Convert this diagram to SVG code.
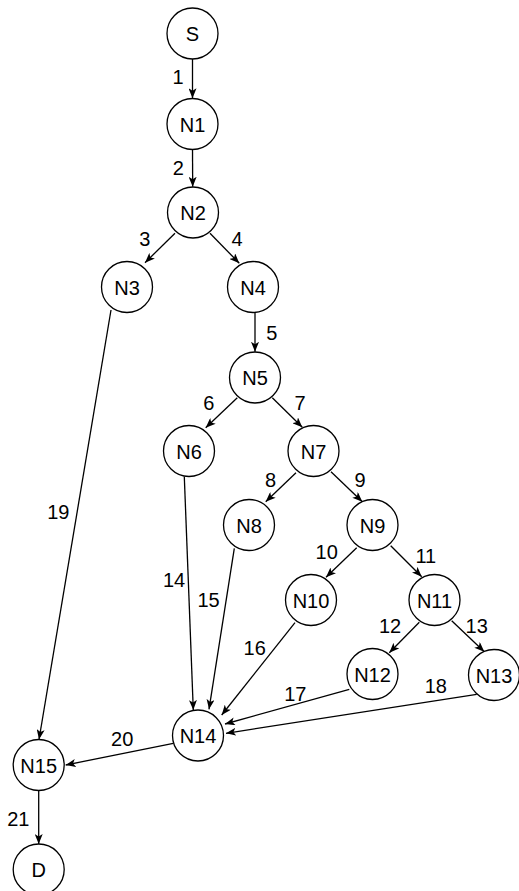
<svg xmlns="http://www.w3.org/2000/svg" width="519" height="891" viewBox="0 0 519 891">
<style>
.n circle{fill:#fff;stroke:#000;stroke-width:1.3}
text{font-family:"Liberation Sans",Arial,sans-serif;font-size:20px;fill:#000}
.n text{text-anchor:middle}
.l{text-anchor:middle}
.e line{stroke:#000;stroke-width:1.3;marker-end:url(#a)}
</style>
<defs>
<marker id="a" markerUnits="userSpaceOnUse" viewBox="0 0 10 8" markerWidth="10" markerHeight="8" refX="10" refY="4" orient="auto">
<path d="M0,0 L10,4 L0,8 L2.5,4 Z" fill="#000"/>
</marker>
</defs>
<rect width="519" height="891" fill="#fff"/>
<g id="connectors" class="e">
<line x1="192.5" y1="59" x2="192.5" y2="98.3"/>
<line x1="192.5" y1="149.5" x2="192.7" y2="186.8"/>
<line x1="175" y1="233.3" x2="145" y2="262.7"/>
<line x1="210" y1="233.3" x2="239.3" y2="263.3"/>
<line x1="255" y1="313" x2="255" y2="351.8"/>
<line x1="237.3" y1="397.7" x2="205.7" y2="427.7"/>
<line x1="272.3" y1="397.7" x2="302.3" y2="427.3"/>
<line x1="296" y1="472.7" x2="265.7" y2="501.7"/>
<line x1="331" y1="471.7" x2="362.3" y2="501.7"/>
<line x1="356.7" y1="547.7" x2="326" y2="577.3"/>
<line x1="390.7" y1="545.7" x2="421.7" y2="576.7"/>
<line x1="419.3" y1="622.3" x2="389.3" y2="652.7"/>
<line x1="451.7" y1="620.7" x2="484.3" y2="651.7"/>
<line x1="184.3" y1="476.7" x2="193.3" y2="710"/>
<line x1="234.3" y1="548.3" x2="209" y2="709.3"/>
<line x1="295" y1="622.7" x2="221.7" y2="715"/>
<line x1="349.3" y1="689.3" x2="225" y2="724"/>
<line x1="476.7" y1="694.3" x2="226" y2="733.3"/>
<line x1="111" y1="310" x2="39" y2="739.5"/>
<line x1="173.3" y1="743.3" x2="65.7" y2="765"/>
<line x1="38.7" y1="790.5" x2="38.7" y2="844"/>
</g>
<g id="labels">
<text class="l" x="178" y="84.3">1</text>
<text class="l" x="178.3" y="175">2</text>
<text class="l" x="144.7" y="245.7">3</text>
<text class="l" x="237" y="245.7">4</text>
<text class="l" x="271.7" y="340">5</text>
<text class="l" x="208.7" y="410">6</text>
<text class="l" x="300" y="410">7</text>
<text class="l" x="270.5" y="486.7">8</text>
<text class="l" x="360" y="486.7">9</text>
<text class="l" x="326.7" y="559">10</text>
<text class="l" x="425.8" y="562.7">11</text>
<text class="l" x="390" y="633.3">12</text>
<text class="l" x="476.7" y="633.3">13</text>
<text class="l" x="174" y="587.3">14</text>
<text class="l" x="208.5" y="606.7">15</text>
<text class="l" x="254.7" y="655">16</text>
<text class="l" x="295.3" y="700.7">17</text>
<text class="l" x="435.8" y="693.3">18</text>
<text class="l" x="58.3" y="519">19</text>
<text class="l" x="122.2" y="745.7">20</text>
<text class="l" x="18.3" y="825.7">21</text>
</g>
<g id="S" class="n"><circle cx="192.5" cy="33.5" r="25.5"/><text x="192.5" y="41">S</text></g>
<g id="N1" class="n"><circle cx="192.5" cy="124" r="25.5"/><text x="192.5" y="131.5">N1</text></g>
<g id="N2" class="n"><circle cx="193" cy="212.5" r="25.5"/><text x="193" y="220">N2</text></g>
<g id="N3" class="n"><circle cx="127" cy="287" r="25.5"/><text x="127" y="294.5">N3</text></g>
<g id="N4" class="n"><circle cx="253" cy="287" r="25.5"/><text x="253" y="294.5">N4</text></g>
<g id="N5" class="n"><circle cx="255" cy="377.5" r="25.5"/><text x="255" y="385">N5</text></g>
<g id="N6" class="n"><circle cx="189" cy="451" r="25.5"/><text x="189" y="458.5">N6</text></g>
<g id="N7" class="n"><circle cx="313.5" cy="451" r="25.5"/><text x="313.5" y="458.5">N7</text></g>
<g id="N8" class="n"><circle cx="249" cy="525" r="25.5"/><text x="249" y="532.5">N8</text></g>
<g id="N9" class="n"><circle cx="372.5" cy="525" r="25.5"/><text x="372.5" y="532.5">N9</text></g>
<g id="N10" class="n"><circle cx="311" cy="600" r="25.5"/><text x="311" y="607.5">N10</text></g>
<g id="N11" class="n"><circle cx="434.5" cy="600" r="25.5"/><text x="434.5" y="607.5">N11</text></g>
<g id="N12" class="n"><circle cx="372.5" cy="674" r="25.5"/><text x="372.5" y="681.5">N12</text></g>
<g id="N13" class="n"><circle cx="494" cy="675" r="25.5"/><text x="494" y="682.5">N13</text></g>
<g id="N14" class="n"><circle cx="198" cy="735.5" r="25.5"/><text x="198" y="743">N14</text></g>
<g id="N15" class="n"><circle cx="38.7" cy="765" r="25.5"/><text x="38.7" y="772.5">N15</text></g>
<g id="D" class="n"><circle cx="38.7" cy="869.5" r="25.5"/><text x="38.7" y="877">D</text></g>
</svg>
